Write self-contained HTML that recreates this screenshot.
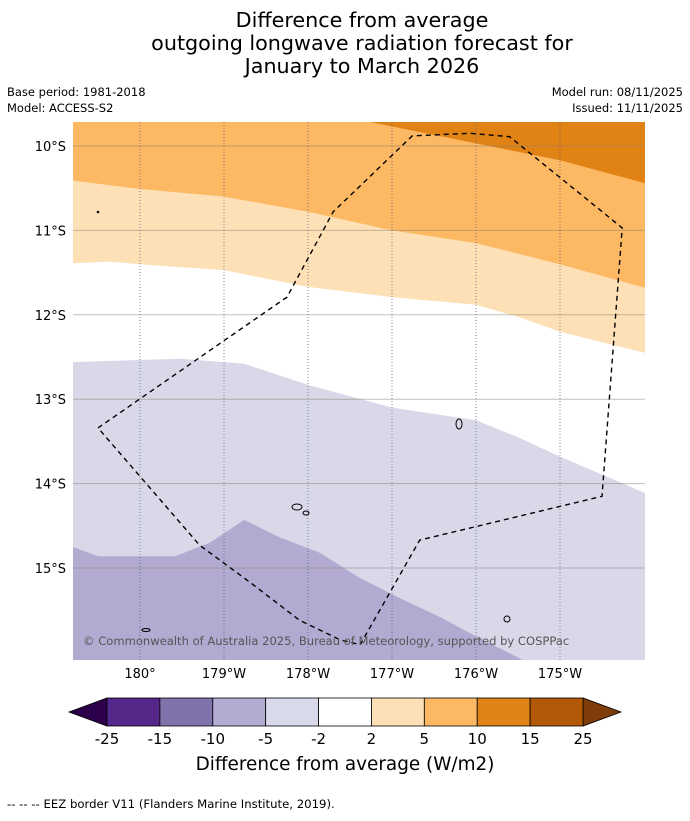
<!DOCTYPE html>
<html><head><meta charset="utf-8"><style>
body{margin:0;background:#fff;width:690px;height:816px;overflow:hidden;font-family:"Liberation Sans","DejaVu Sans",sans-serif}
</style></head><body>
<svg width="690" height="816" font-family="DejaVu Sans, Liberation Sans, sans-serif">
<g font-size="20.7" text-anchor="middle" fill="#000">
<text x="362" y="27">Difference from average</text>
<text x="362" y="50">outgoing longwave radiation forecast for</text>
<text x="362" y="73">January to March 2026</text>
</g>
<g font-size="11.5" fill="#000">
<text x="7" y="96">Base period: 1981-2018</text>
<text x="7" y="112">Model: ACCESS-S2</text>
<text x="683" y="96" text-anchor="end">Model run: 08/11/2025</text>
<text x="683" y="112" text-anchor="end">Issued: 11/11/2025</text>
</g>
<defs><clipPath id="mc"><rect x="73" y="122" width="572" height="538"/></clipPath></defs>
<g id="map" clip-path="url(#mc)"></g>
<g id="axes"></g>
<g id="cbar"></g>
<text x="345" y="770" text-anchor="middle" font-size="18.4">Difference from average (W/m2)</text>
<text x="7" y="808" font-size="11.7">--  --  -- EEZ border V11 (Flanders Marine Institute, 2019).</text>
</svg>
<script>
const lonTicks=[180,181,182,183,184,185];
const lonLabels=["180°","179°W","178°W","177°W","176°W","175°W"];
const latTicks=[10,11,12,13,14,15];
const latLabels=["10°S","11°S","12°S","13°S","14°S","15°S"];
// contour boundaries (lon east-degrees, lat south-degrees)
const b10Lon=[182.76,183.81,185,186.01];const b10Lat=[9.72,9.93,10.17,10.44];
const b5Lon=[179.2,180,181,182,183,184,185,186.01];const b5Lat=[10.41,10.51,10.60,10.78,11.0,11.15,11.40,11.68];
const b2Lon=[179.2,179.64,180,181,182,183,184,184.52,185,186.01];const b2Lat=[11.39,11.37,11.40,11.47,11.67,11.79,11.88,12.03,12.20,12.45];
const bm2Lon=[179.2,180.48,181.24,182,183,184,184.52,185,186.01];const bm2Lat=[12.56,12.52,12.58,12.83,13.10,13.25,13.46,13.68,14.11];
const bm5Lon=[179.2,179.5,180.42,180.83,181.24,181.67,182.14,182.62,183.10,183.57,184,184.56];const bm5Lat=[14.75,14.86,14.86,14.70,14.43,14.64,14.82,15.12,15.36,15.58,15.81,16.09];
const eezLon=[179.5,181.75,182.30,183.24,183.93,184.40,185.74,185.50,183.33,182.62,182.38,181.90,181.31,180.71];
const eezLat=[13.34,11.79,10.78,9.88,9.85,9.89,10.97,14.15,14.67,15.91,15.85,15.62,15.17,14.73];
const cbColors=["#542788","#8073ac","#b2abd2","#d8daeb","#ffffff","#fee0b6","#fdb863","#e08214","#b35806"];
const cbLabels=["-25","-15","-10","-5","-2","2","5","10","15","25"];
const X=l=>140+(l-180)*84, Y=t=>146+(t-10)*84.4;
const NS="http://www.w3.org/2000/svg";
function mk(tag,attrs,parent){const e=document.createElementNS(NS,tag);for(const k in attrs)e.setAttribute(k,attrs[k]);parent.appendChild(e);return e;}
const map=document.getElementById('map');
function line(lo,la){return lo.map((l,i)=>X(l).toFixed(1)+","+Y(la[i]).toFixed(1)).join(" ");}
const mapBg=mk('rect',{x:73,y:122,width:572,height:538,fill:'#fdb863'},map);


function band(lo,la,fill,below,name){
  const pts=line(lo,la);
  const p=mk('polygon',{points:below?pts+" 700,700 60,700":pts+" 700,100 300,100",fill:fill},map);
  
  
}
band(b5Lon,b5Lat,'#fee0b6',true,'band-2-5');
band(b2Lon,b2Lat,'#ffffff',true,'band-neutral');
band(bm2Lon,bm2Lat,'#d8d8e9',true,'band-minus2-minus5');
band(bm5Lon,bm5Lat,'#b2aad1',true,'band-minus5-minus10');
band(b10Lon,b10Lat,'#e08214',false,'band-10-15');
latTicks.forEach(t=>{const g=mk('line',{x1:73,x2:645,y1:Y(t),y2:Y(t),stroke:'#8a8070','stroke-opacity':0.5,'stroke-width':1},map);

});
lonTicks.forEach(t=>{const g=mk('line',{x1:X(t),x2:X(t),y1:122,y2:660,stroke:'#555577','stroke-width':1,'stroke-dasharray':'1,2','stroke-opacity':0.7},map);

});
const eez=mk('polygon',{points:line(eezLon,eezLat),fill:'none',stroke:'#000','stroke-width':1.4,'stroke-dasharray':'5,4'},map);


[[459,424,3,5],[297,507,5,3],[306,513,3,2],[507,619,3,3],[146,630,4,1.5],[98,212,0.8,0.8]].forEach(d=>{const e=mk('ellipse',{cx:d[0],cy:d[1],rx:d[2],ry:d[3],fill:'none',stroke:'#000','stroke-width':1},map);

});
const cp=mk('text',{x:83,y:645,'font-size':11.55,fill:'#555'},map);cp.textContent="© Commonwealth of Australia 2025, Bureau of Meteorology, supported by COSPPac";


const ax=document.getElementById('axes');
lonTicks.forEach((t,i)=>{const e=mk('text',{x:X(t),y:678,'font-size':13,'text-anchor':'middle'},ax);e.textContent=lonLabels[i];

});
latTicks.forEach((t,i)=>{const e=mk('text',{x:66,y:Y(t)+5,'font-size':13,'text-anchor':'end'},ax);e.textContent=latLabels[i];

});
const cb=document.getElementById('cbar');const x0=107,w=476/cbColors.length,y0=698,h=28;
const tl=mk('polygon',{points:`${x0},${y0} ${x0},${y0+h} 69,${y0+h/2}`,fill:'#2d004b',stroke:'#000','stroke-width':0.8},cb);


const tr=mk('polygon',{points:`583,${y0} 583,${y0+h} 621,${y0+h/2}`,fill:'#7f3b08',stroke:'#000','stroke-width':0.8},cb);


cbColors.forEach((c,i)=>{const r=mk('rect',{x:x0+i*w,y:y0,width:w,height:h,fill:c,stroke:'#000','stroke-width':0.8},cb);

});
cbLabels.forEach((s,i)=>{const e=mk('text',{x:x0+i*w,y:744,'font-size':15,'text-anchor':'middle'},cb);e.textContent=s;

});
</script>
</body></html>
